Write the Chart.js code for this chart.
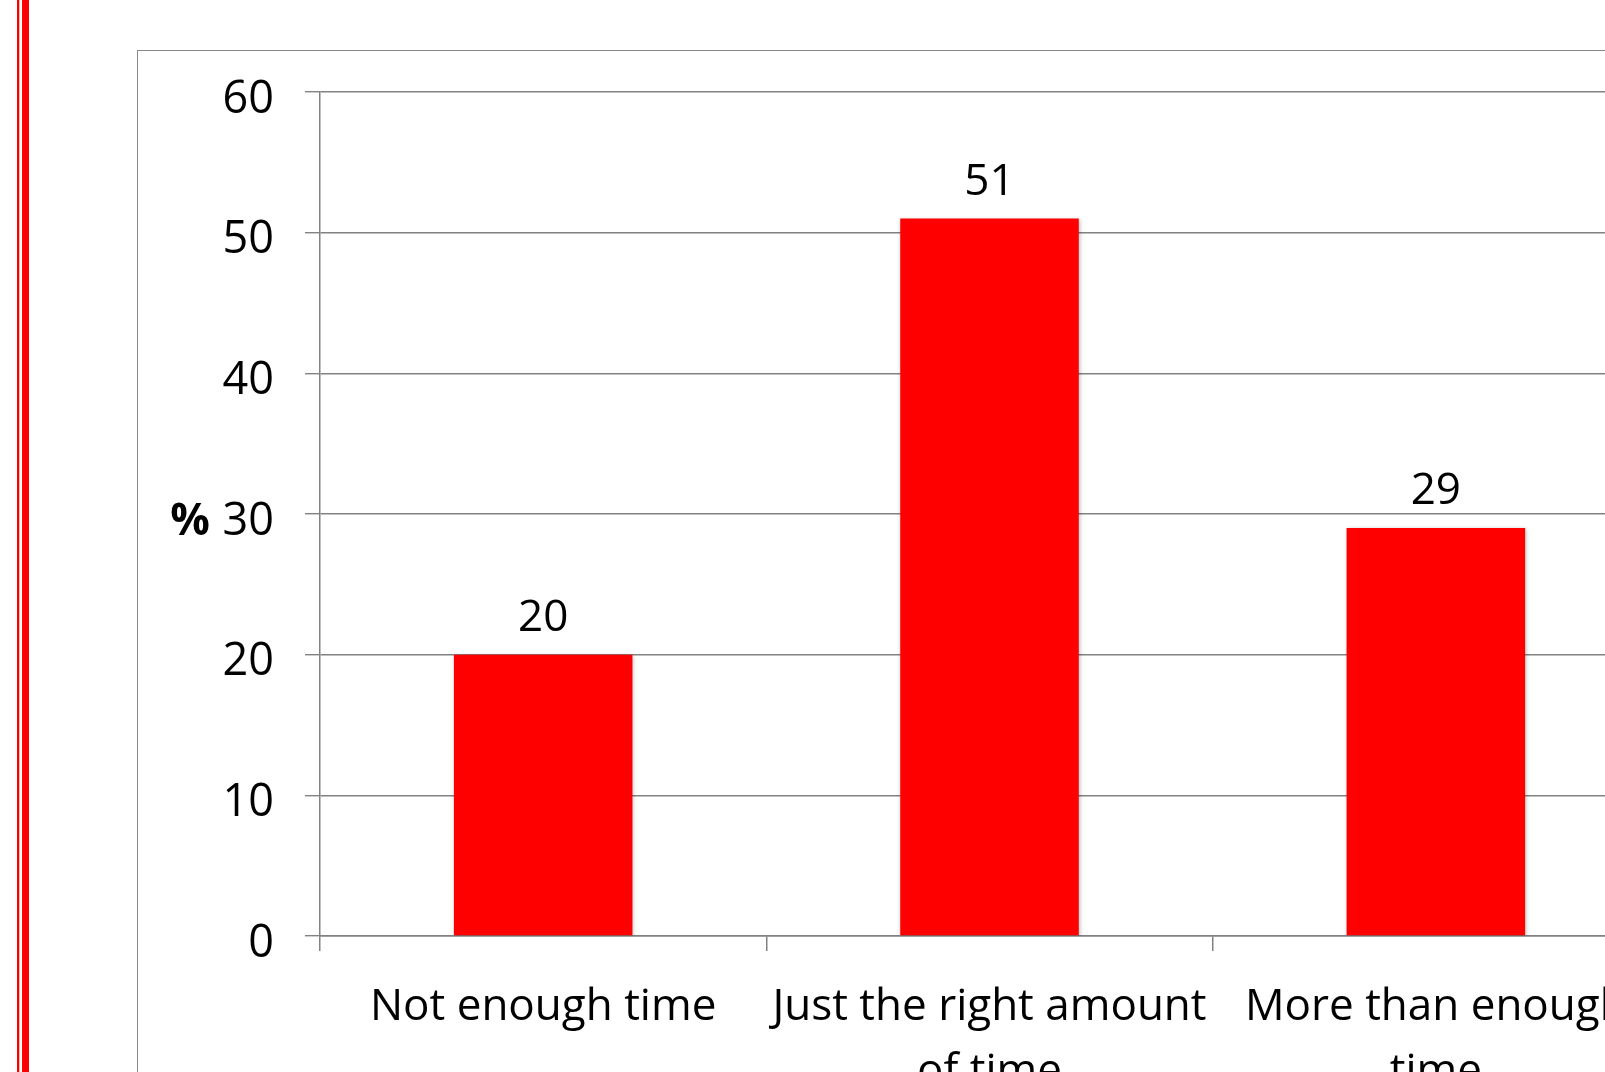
<!DOCTYPE html>
<html>
<head>
<meta charset="utf-8">
<script src="https://cdn.jsdelivr.net/npm/chart.js@4"></script>
<style>
    html, body { margin: 0; padding: 0; background: #fff; overflow: hidden; }
    body { width: 1605px; height: 1072px; position: relative; }
    .red1 { position: absolute; left: 17px; top: 0; width: 2px; height: 1072px; background: #ff0000; }
    .red1b { position: absolute; left: 19px; top: 0; width: 1px; height: 1072px; background: #ffb0b0; }
    .red2 { position: absolute; left: 22px; top: 0; width: 7px; height: 1072px; background: #ff0000; }
    .box { position: absolute; left: 137px; top: 50px; width: 1700px; height: 1200px; border: 1.5px solid #888; }
    #chart { position: absolute; left: 0; top: 0; }
</style>
</head>
<body>
<div class="red1"></div>
<div class="red1b"></div>
<div class="red2"></div>
<div class="box"></div>
<canvas id="chart" width="1720" height="1072"></canvas>
<script>
const categories = [
    'Not enough time',
    ['Just the right amount', 'of time'],
    ['More than enough', 'time']
];
const percents = [20, 51, 29];
const yTicks = [0, 10, 20, 30, 40, 50, 60];

const colors = {
    bar: '#ff0000',
    grid: '#828282',
    text: '#000000'
};

Chart.defaults.font.family = "'Open Sans', 'Noto Sans', sans-serif";
Chart.defaults.color = colors.text;

// angka di atas batang + tanda % di sumbu y
const labelPlugin = {
    id: 'labels',
    beforeDatasetsDraw(chart) {
        const ctx = chart.ctx;
        ctx.save();
        ctx.shadowColor = 'rgba(0,0,0,0.28)';
        ctx.shadowBlur = 4;
        ctx.shadowOffsetX = 1;
        ctx.shadowOffsetY = 1;
    },
    afterDatasetsDraw(chart) {
        const ctx = chart.ctx;
        ctx.restore();
        ctx.save();
        ctx.font = "44px 'Open Sans'";
        ctx.fillStyle = colors.text;
        ctx.textAlign = 'center';
        ctx.textBaseline = 'alphabetic';
        chart.getDatasetMeta(0).data.forEach((bar, i) => {
            ctx.fillText(String(percents[i]), bar.x, bar.y - 24);
        });
        const y = chart.scales.y;
        ctx.font = "bold 44px 'Open Sans'";
        ctx.textAlign = 'right';
        ctx.textBaseline = 'middle';
        ctx.fillText('%', 210, y.getPixelForValue(30) + 8);
        ctx.restore();
    }
};

new Chart(document.getElementById('chart'), {
    type: 'bar',
    data: {
        labels: categories,
        datasets: [{
            data: percents,
            backgroundColor: colors.bar,
            borderWidth: 0,
            categoryPercentage: 1,
            barPercentage: 0.4
        }]
    },
    options: {
        responsive: false,
        animation: false,
        layout: { padding: { top: 92, right: 61, left: 0, bottom: 0 } },
        plugins: {
            legend: { display: false },
            tooltip: { enabled: false }
        },
        scales: {
            x: {
                afterFit(scale) { scale.height = 136; },
                grid: { drawOnChartArea: false, drawTicks: true, tickLength: 15, color: colors.grid, lineWidth: 1.5 },
                border: { display: true, color: colors.grid, width: 1.5 },
                ticks: { padding: 24, maxRotation: 0, autoSkip: false, font: { size: 44, lineHeight: 1.48 } }
            },
            y: {
                min: 0,
                max: 60,
                afterFit(scale) { scale.width = 320; },
                afterBuildTicks(scale) { scale.ticks = yTicks.map(v => ({ value: v })); },
                grid: { color: colors.grid, lineWidth: 1.4, tickLength: 15 },
                border: { display: true, color: colors.grid, width: 1.5 },
                ticks: { padding: 31, labelOffset: 8, font: { size: 45 } }
            }
        }
    },
    plugins: [labelPlugin]
});
</script>
</body>
</html>
